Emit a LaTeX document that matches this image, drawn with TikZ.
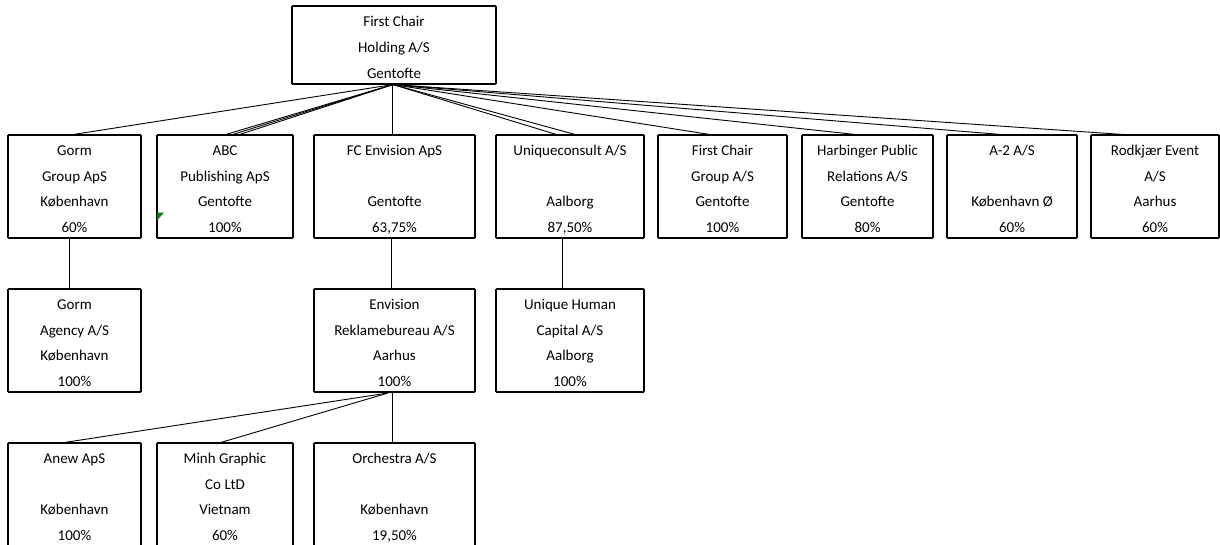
\documentclass[tikz,border=0pt]{standalone}
\usepackage{fontspec}
\setmainfont{Carlito}
\definecolor{markgreen}{RGB}{0,128,0}
\newcommand\mystrut{\rule[-5.3pt]{0pt}{25.7pt}}
\newcommand\fourl[4]{\mystrut#1\\\mystrut#2\\\mystrut#3\\\mystrut#4}
\newcommand\threel[3]{\mystrut#1\\\mystrut#2\\\mystrut#3}
\tikzset{
  orgbox/.style={inner sep=0pt, outer sep=0pt, align=center,
    font=\fontsize{15}{25.7}\selectfont, minimum height=103pt},
  conn/.style={line width=0.9pt, black},
}
\begin{document}
\begin{tikzpicture}[x=1pt,y=-1pt]
\useasboundingbox (0,0) rectangle (1220,544);
% top
\node[orgbox, minimum width=204pt, minimum height=76pt] (top) at (394,45) {\threel{First Chair}{Holding A/S}{Gentofte}};
% row 1
\node[orgbox, minimum width=133pt] (gorm) at (74.5,186.5) {\fourl{Gorm}{Group ApS}{København}{60\%}};
\node[orgbox, minimum width=136pt] (abc) at (225,186.5) {\fourl{ABC}{Publishing ApS}{Gentofte}{100\%}};
\node[orgbox, minimum width=161pt] (fce) at (394.5,186.5) {\fourl{FC Envision ApS}{}{Gentofte}{63,75\%}};
\node[orgbox, minimum width=148pt] (uni) at (570,186.5) {\fourl{Uniqueconsult A/S}{}{Aalborg}{87,50\%}};
\node[orgbox, minimum width=129pt] (fcg) at (722.5,186.5) {\fourl{First Chair}{Group A/S}{Gentofte}{100\%}};
\node[orgbox, minimum width=131pt] (harb) at (867.5,186.5) {\fourl{Harbinger Public}{Relations A/S}{Gentofte}{80\%}};
\node[orgbox, minimum width=130pt] (atwo) at (1012,186.5) {\fourl{A-2 A/S}{}{København Ø}{60\%}};
\node[orgbox, minimum width=128pt] (rod) at (1155,186.5) {\fourl{Rodkjær Event}{A/S}{Aarhus}{60\%}};
% row 2
\node[orgbox, minimum width=133pt] (gag) at (74.5,340.5) {\fourl{Gorm}{Agency A/S}{København}{100\%}};
\node[orgbox, minimum width=161pt] (env) at (394.5,340.5) {\fourl{Envision}{Reklamebureau A/S}{Aarhus}{100\%}};
\node[orgbox, minimum width=148pt] (uhc) at (570,340.5) {\fourl{Unique Human}{Capital A/S}{Aalborg}{100\%}};
% row 3
\node[orgbox, minimum width=133pt] (anew) at (74.5,494.5) {\fourl{Anew ApS}{}{København}{100\%}};
\node[orgbox, minimum width=136pt] (minh) at (225,494.5) {\fourl{Minh Graphic}{Co LtD}{Vietnam}{60\%}};
\node[orgbox, minimum width=161pt] (orch) at (394.5,494.5) {\fourl{Orchestra A/S}{}{København}{19,50\%}};
% borders
\foreach \n in {top,gorm,abc,fce,uni,fcg,harb,atwo,rod,gag,env,uhc,anew,minh,orch}{
  \draw[line width=1.2pt] (\n.north west) -- (\n.south west) (\n.north east) -- (\n.south east);
  \draw[line width=2pt] (\n.north west) -- (\n.north east) (\n.south west) -- (\n.south east);
}
% connectors from top
\coordinate (o1) at ([xshift=-1pt,yshift=-1pt]top.south);
\draw[conn] (o1) -- ([xshift=-4.5pt]gorm.north);
\draw[conn] (o1) -- ([xshift=-1pt]abc.north);
\draw[conn] (o1) -- ([xshift=6pt]abc.north);
\draw[conn] (o1) -- ([xshift=13pt]abc.north);
\draw[conn] ([xshift=-2.5pt]fce.north |- o1) -- ([xshift=-2.5pt]fce.north);
\draw[conn] (o1) -- ([xshift=-12pt]uni.north);
\draw[conn] (o1) -- ([xshift=7pt]uni.north);
\draw[conn] (o1) -- ([xshift=-9.5pt]fcg.north);
\draw[conn] (o1) -- ([xshift=-7.5pt]harb.north);
\draw[conn] (o1) -- ([xshift=-5pt]atwo.north);
\draw[conn] (o1) -- ([xshift=-24pt]rod.north);
% row1 -> row2
\draw[conn] ([xshift=-5.5pt]gorm.south) -- ([xshift=-5.5pt]gag.north);
\draw[conn] ([xshift=-3.5pt]fce.south) -- ([xshift=-3.5pt]env.north);
\draw[conn] ([xshift=-8pt]uni.south) -- ([xshift=-8pt]uhc.north);
% row2 -> row3
\coordinate (o2) at ([xshift=-6.5pt,yshift=-1pt]env.south);
\draw[conn] (o2) -- ([xshift=-13.5pt]anew.north);
\draw[conn] (o2) -- ([xshift=-6pt]minh.north);
\draw[conn] ([xshift=-2.5pt]env.south) -- ([xshift=-2.5pt]orch.north);
% green marker
\fill[markgreen] (157,212.5) -- (164,212.5) -- (157,220.5) -- cycle;
\end{tikzpicture}
\end{document}
